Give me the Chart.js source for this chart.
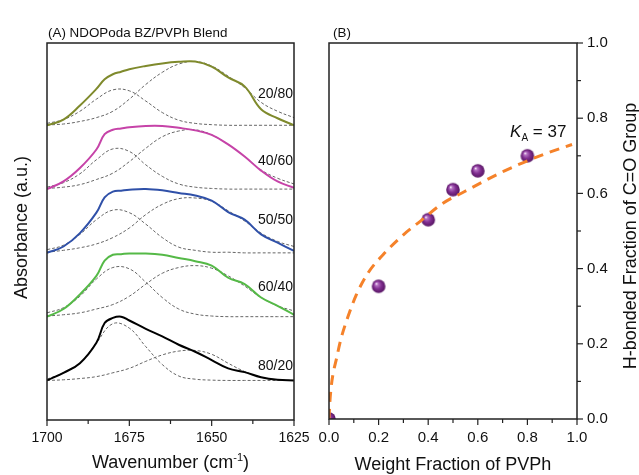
<!DOCTYPE html>
<html>
<head>
<meta charset="utf-8">
<script src="https://cdn.jsdelivr.net/npm/chart.js@4"></script>
<style>
html, body { margin: 0; padding: 0; background: #fff; }
#wrap { position: relative; width: 639px; height: 475px; overflow: hidden; }
#panelA { position: absolute; left: 0; top: 0; }
#panelB { position: absolute; left: 300px; top: 0; }
</style>
</head>
<body>
<div id="wrap">
<canvas id="panelA" width="320" height="475"></canvas>
<canvas id="panelB" width="339" height="475"></canvas>
</div>
<script>
// ---- panel A: FTIR carbonyl region ----
const waveSolid = [1700, 1695, 1690, 1685, 1682.5, 1680, 1677.5, 1675, 1670, 1665, 1660, 1655, 1650, 1645, 1640, 1635, 1630, 1625];
const waveFit = [1700, 1695, 1690, 1685, 1680, 1675, 1670, 1665, 1660, 1655, 1650, 1645, 1640, 1635, 1630, 1625];
const blendLabels = ['20/80', '40/60', '50/50', '60/40', '80/20'];
const stackLevel = [4, 3, 2, 1, 0];

const solid2080 = [0, 0.09, 0.31, 0.57, 0.72, 0.80, 0.84, 0.88, 0.93, 0.97, 0.995, 1.0, 0.92, 0.75, 0.61, 0.25, 0.11, 0];
const solid4060 = [0, 0.12, 0.33, 0.62, 0.86, 0.93, 0.95, 0.97, 0.99, 0.99, 0.96, 0.92, 0.85, 0.70, 0.51, 0.29, 0.12, 0.02];
const solid5050 = [0, 0.10, 0.31, 0.63, 0.87, 0.96, 0.975, 0.99, 1.0, 0.98, 0.94, 0.90, 0.82, 0.64, 0.52, 0.29, 0.16, 0.03];
const solid6040 = [0, 0.12, 0.35, 0.64, 0.88, 0.97, 0.98, 0.99, 0.99, 0.97, 0.92, 0.87, 0.80, 0.61, 0.51, 0.30, 0.17, 0.03];
const solid8020 = [0, 0.12, 0.27, 0.59, 0.90, 0.98, 1.0, 0.94, 0.81, 0.69, 0.56, 0.45, 0.32, 0.19, 0.13, 0.05, 0.01, 0];

// free C=O (~1680) and H-bonded C=O (~1655) fitted bands
const free2080 = [0.03, 0.09, 0.22, 0.41, 0.555, 0.54, 0.38, 0.20, 0.08, 0.03, 0.01, 0, 0, 0, 0, 0];
const bond2080 = [0.005, 0.02, 0.06, 0.12, 0.22, 0.41, 0.64, 0.83, 0.96, 1.0, 0.93, 0.77, 0.59, 0.36, 0.22, 0.12];
const free4060 = [0.03, 0.10, 0.24, 0.46, 0.63, 0.59, 0.38, 0.20, 0.08, 0.03, 0.01, 0, 0, 0, 0, 0];
const bond4060 = [0.01, 0.03, 0.07, 0.15, 0.25, 0.43, 0.64, 0.82, 0.91, 0.93, 0.85, 0.70, 0.51, 0.30, 0.17, 0.08];
const free5050 = [0.05, 0.12, 0.29, 0.52, 0.67, 0.63, 0.45, 0.24, 0.09, 0.04, 0.01, 0.01, 0, 0, 0, 0];
const bond5050 = [0.01, 0.04, 0.08, 0.14, 0.24, 0.39, 0.60, 0.76, 0.85, 0.86, 0.81, 0.66, 0.50, 0.31, 0.18, 0.10];
const free6040 = [0.06, 0.14, 0.32, 0.59, 0.77, 0.75, 0.54, 0.30, 0.12, 0.04, 0.01, 0, 0, 0, 0, 0];
const bond6040 = [0.01, 0.03, 0.06, 0.12, 0.19, 0.32, 0.51, 0.68, 0.77, 0.80, 0.76, 0.64, 0.48, 0.30, 0.17, 0.09];
const free8020 = [0.02, 0.12, 0.27, 0.59, 0.89, 0.82, 0.53, 0.25, 0.07, 0.02, 0.005, 0, 0, 0, 0, 0];
const bond8020 = [0, 0.01, 0.03, 0.06, 0.12, 0.19, 0.30, 0.40, 0.46, 0.47, 0.41, 0.27, 0.14, 0.05, 0.01, 0];

// where the blend ratio labels sit (y in stacked units)
const labelLevels = [4.485, 3.44, 2.52, 1.47, 0.22];

// ---- panel B: H-bonded fraction vs PVPh ----
const fractionPVPh = [0, 0.2, 0.4, 0.5, 0.6, 0.8];
const hBondFraction = [0, 0.353, 0.53, 0.61, 0.66, 0.70];
const fitX = [0, 0.003, 0.008, 0.015, 0.03, 0.047, 0.077, 0.11, 0.157, 0.218, 0.3, 0.37, 0.453, 0.547, 0.708, 0.87, 0.98];
const fitY = [0, 0.04, 0.08, 0.115, 0.16, 0.21, 0.273, 0.33, 0.388, 0.437, 0.49, 0.527, 0.571, 0.605, 0.66, 0.705, 0.73];

const FONT = "'Liberation Sans', Arial, sans-serif";
const INK = '#111';

const solidSeries = [solid2080, solid4060, solid5050, solid6040, solid8020];
const freeSeries = [free2080, free4060, free5050, free6040, free8020];
const bondSeries = [bond2080, bond4060, bond5050, bond6040, bond8020];
const lineColors = ['#7f8a2c', '#c643a8', '#2f50a8', '#55b947', '#000000'];

function toPoints(xs, ys, shift) {
    return xs.map((x, i) => ({ x: x, y: ys[i] + shift }));
}

function drawRich(ctx, parts, x, y, align) {
    let total = 0;
    parts.forEach(p => {
        ctx.font = (p.italic ? 'italic ' : '') + p.size + 'px ' + FONT;
        p.w = ctx.measureText(p.t).width;
        total += p.w;
    });
    let cx = align === 'center' ? x - total / 2 : x;
    ctx.textAlign = 'left';
    parts.forEach(p => {
        ctx.font = (p.italic ? 'italic ' : '') + p.size + 'px ' + FONT;
        ctx.fillText(p.t, cx, y + (p.dy || 0));
        cx += p.w;
    });
}

function drawTicks(ctx, scale, side, isMajor) {
    const area = scale.chart.chartArea;
    ctx.save();
    ctx.strokeStyle = '#222';
    ctx.lineWidth = 1.2;
    scale.ticks.forEach(t => {
        const p = scale.getPixelForValue(t.value);
        const len = isMajor(t.value) ? 6 : 4;
        ctx.beginPath();
        if (side === 'bottom') {
            ctx.moveTo(p, area.bottom);
            ctx.lineTo(p, area.bottom + len);
        } else {
            ctx.moveTo(area.right, p);
            ctx.lineTo(area.right + len, p);
        }
        ctx.stroke();
    });
    ctx.restore();
}

function drawFrame(ctx, area) {
    ctx.save();
    ctx.strokeStyle = '#222';
    ctx.lineWidth = 1.5;
    ctx.strokeRect(area.left, area.top, area.right - area.left, area.bottom - area.top);
    ctx.restore();
}

// ---------- chart A ----------
const datasetsA = [];
solidSeries.forEach((s, k) => {
    datasetsA.push({
        data: toPoints(waveSolid, s, stackLevel[k]),
        borderColor: lineColors[k],
        borderWidth: 2,
        tension: 0.4,
        pointRadius: 0,
        showLine: true
    });
});
[freeSeries, bondSeries].forEach(group => {
    group.forEach((s, k) => {
        datasetsA.push({
            data: toPoints(waveFit, s, stackLevel[k]),
            borderColor: '#666',
            borderWidth: 1,
            borderDash: [3, 2],
            tension: 0.4,
            pointRadius: 0,
            showLine: true
        });
    });
});

const panelAText = {
    id: 'panelAText',
    afterDraw(chart) {
        const ctx = chart.ctx;
        const area = chart.chartArea;
        const xs = chart.scales.x;
        const ys = chart.scales.y;
        drawFrame(ctx, area);
        drawTicks(ctx, xs, 'bottom', v => v % 25 === 0);
        ctx.save();
        ctx.fillStyle = INK;
        ctx.textBaseline = 'middle';
        ctx.font = '14px ' + FONT;
        ctx.textAlign = 'right';
        blendLabels.forEach((lab, k) => {
            ctx.fillText(lab, area.right - 1, ys.getPixelForValue(labelLevels[k]));
        });
        ctx.textAlign = 'left';
        ctx.font = '13.4px ' + FONT;
        ctx.fillText('(A) NDOPoda BZ/PVPh Blend', area.left + 1, 33);
        ctx.textBaseline = 'alphabetic';
        drawRich(ctx, [
            { t: 'Wavenumber (cm', size: 18 },
            { t: '-1', size: 11, dy: -7 },
            { t: ')', size: 18 }
        ], (area.left + area.right) / 2, 468, 'center');
        ctx.translate(22, (area.top + area.bottom) / 2 - 4);
        ctx.rotate(-Math.PI / 2);
        ctx.textAlign = 'center';
        ctx.textBaseline = 'middle';
        ctx.font = '18px ' + FONT;
        ctx.fillText('Absorbance (a.u.)', 0, 0);
        ctx.restore();
    }
};

new Chart(document.getElementById('panelA'), {
    type: 'scatter',
    data: { datasets: datasetsA },
    options: {
        responsive: false,
        animation: false,
        layout: { padding: { left: 47, top: 43, right: 26, bottom: 0 } },
        plugins: { legend: { display: false }, tooltip: { enabled: false } },
        scales: {
            x: {
                type: 'linear',
                reverse: true,
                min: 1625,
                max: 1700,
                border: { display: false },
                grid: { display: false, drawTicks: false },
                ticks: {
                    stepSize: 12.5,
                    autoSkip: false,
                    maxRotation: 0,
                    padding: 10,
                    color: INK,
                    font: { family: FONT, size: 14 },
                    callback: v => (v % 25 === 0 ? String(v) : '')
                },
                afterFit: s => { s.height = 55; }
            },
            y: {
                display: false,
                min: -0.62,
                max: 5.29
            }
        }
    },
    plugins: [panelAText]
});

// ---------- chart B ----------
function makeSphere(r) {
    const c = document.createElement('canvas');
    const s = Math.ceil(r * 2) + 2;
    c.width = s;
    c.height = s;
    const g = c.getContext('2d');
    const cx = s / 2, cy = s / 2;
    const grad = g.createRadialGradient(cx - r * 0.35, cy - r * 0.4, 0.3, cx, cy, r);
    grad.addColorStop(0, '#fbf2fc');
    grad.addColorStop(0.18, '#b673c4');
    grad.addColorStop(0.55, '#812f91');
    grad.addColorStop(1, '#561462');
    g.fillStyle = grad;
    g.beginPath();
    g.arc(cx, cy, r, 0, Math.PI * 2);
    g.fill();
    return c;
}
const sphere = makeSphere(6.8);

const kaPos = { x: 0.73, y: 0.749 };

const panelBText = {
    id: 'panelBText',
    afterDraw(chart) {
        const ctx = chart.ctx;
        const area = chart.chartArea;
        const xs = chart.scales.x;
        const ys = chart.scales.y;
        drawFrame(ctx, area);
        const even = v => Math.round(v * 10) % 2 === 0;
        drawTicks(ctx, xs, 'bottom', even);
        drawTicks(ctx, ys, 'right', even);
        ctx.save();
        ctx.fillStyle = INK;
        ctx.textBaseline = 'middle';
        ctx.textAlign = 'left';
        ctx.font = '13.4px ' + FONT;
        ctx.fillText('(B)', area.left + 4, 33);
        ctx.textBaseline = 'alphabetic';
        drawRich(ctx, [
            { t: 'K', size: 17, italic: true },
            { t: 'A', size: 10, dy: 4 },
            { t: ' = 37', size: 17 }
        ], xs.getPixelForValue(kaPos.x), ys.getPixelForValue(kaPos.y), 'left');
        ctx.font = '18px ' + FONT;
        ctx.textAlign = 'center';
        ctx.fillText('Weight Fraction of PVPh', (area.left + area.right) / 2, 470);
        ctx.translate(331, (area.top + area.bottom) / 2 + 5);
        ctx.rotate(-Math.PI / 2);
        ctx.textBaseline = 'middle';
        ctx.fillText('H-bonded Fraction of C=O Group', 0, 0);
        ctx.restore();
    }
};

const tenthLabel = v => (Math.round(v * 10) % 2 === 0 ? (Math.round(v * 10) / 10).toFixed(1) : '');

new Chart(document.getElementById('panelB'), {
    type: 'scatter',
    data: {
        datasets: [
            {
                data: fitX.map((x, i) => ({ x: x, y: fitY[i] })),
                showLine: true,
                borderColor: '#f5822a',
                borderWidth: 3,
                borderDash: [10, 7],
                cubicInterpolationMode: 'monotone',
                pointRadius: 0
            },
            {
                data: fractionPVPh.map((x, i) => ({ x: x, y: hBondFraction[i] })),
                showLine: false,
                pointStyle: sphere,
                pointRadius: 6.8,
                clip: 0
            }
        ]
    },
    options: {
        responsive: false,
        animation: false,
        layout: { padding: { left: 29, top: 43, right: 0, bottom: 0 } },
        plugins: { legend: { display: false }, tooltip: { enabled: false } },
        scales: {
            x: {
                type: 'linear',
                min: 0,
                max: 1,
                border: { display: false },
                grid: { display: false, drawTicks: false },
                ticks: {
                    stepSize: 0.1,
                    autoSkip: false,
                    maxRotation: 0,
                    padding: 10,
                    color: INK,
                    font: { family: FONT, size: 15 },
                    callback: tenthLabel
                },
                afterFit: s => { s.height = 56; }
            },
            y: {
                position: 'right',
                min: 0,
                max: 1,
                border: { display: false },
                grid: { display: false, drawTicks: false },
                ticks: {
                    stepSize: 0.1,
                    autoSkip: false,
                    padding: 10,
                    color: INK,
                    font: { family: FONT, size: 15 },
                    callback: tenthLabel
                },
                afterFit: s => { s.width = 62; }
            }
        }
    },
    plugins: [panelBText]
});
</script>
</body>
</html>
